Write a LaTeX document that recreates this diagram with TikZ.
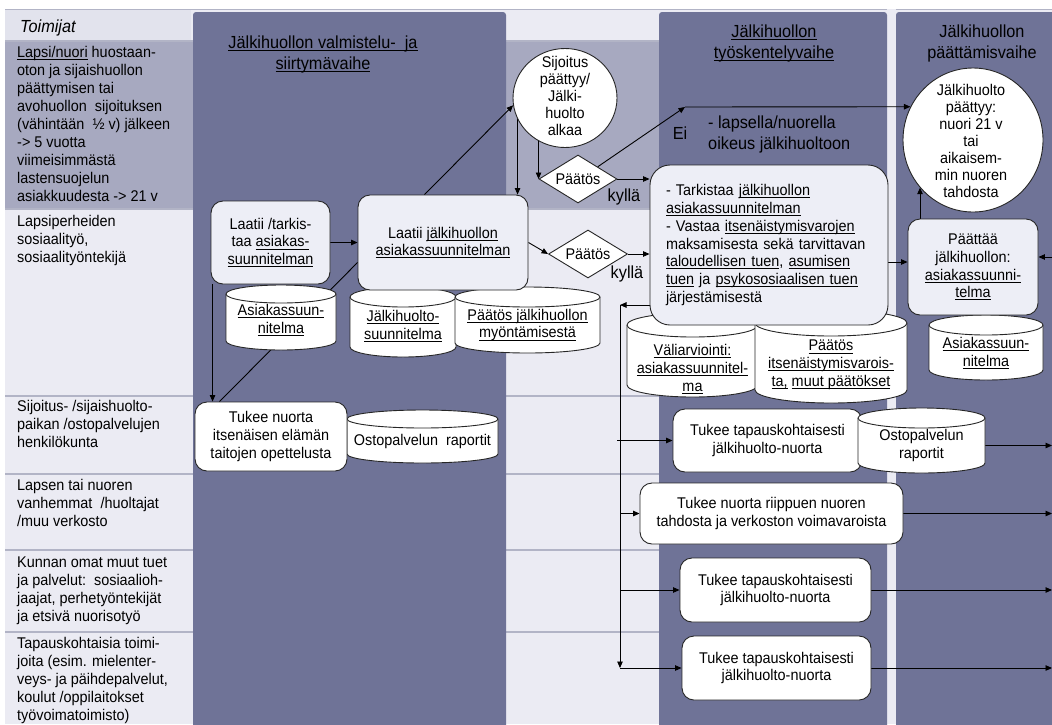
\documentclass[tikz,border=0pt]{standalone}
\usepackage{fontspec}
\setmainfont{Liberation Sans}[FakeStretch=0.93]
\usetikzlibrary{shapes.geometric,arrows.meta,calc}
\newsavebox\myulbox
\newcommand\myul[1]{\sbox\myulbox{#1}\leavevmode\rlap{\rule[-2.4pt]{\wd\myulbox}{0.75pt}}\usebox\myulbox}
\pgfdeclarelayer{bg}
\pgfdeclarelayer{lines}
\pgfsetlayers{bg,lines,main}
\definecolor{bgl}{RGB}{235,235,243}
\definecolor{bgm}{RGB}{167,169,192}
\definecolor{darkc}{RGB}{111,115,151}
\definecolor{sepc}{RGB}{178,180,198}
\definecolor{boxf}{RGB}{237,238,246}
\definecolor{hdrc}{RGB}{226,227,237}
\newcommand\fbody{\fontsize{15.5pt}{17.8pt}\selectfont}
\newcommand\fleft{\fontsize{15.5pt}{18pt}\selectfont}
\newcommand\fcirc{\fontsize{15.5pt}{17pt}\selectfont}
\newcommand\fhead{\fontsize{17.5pt}{21pt}\selectfont}
\newcommand\fbig{\fontsize{17.5pt}{21pt}\selectfont}
% #1 name, #2 left, #3 top, #4 right, #5 bottom, #6 cap radius, #7 text y, #8 text
\newcommand{\mycyl}[8]{%
  \filldraw[cylshape] (#2,#3+#6) -- (#2,#5-#6)
     arc[start angle=180,end angle=0,x radius={(#4-#2)/2},y radius=#6]
     -- (#4,#3+#6)
     arc[start angle=0,end angle=-180,x radius={(#4-#2)/2},y radius=#6] -- cycle;
  \draw[cylshape] (#2,#3+#6) arc[start angle=180,end angle=0,x radius={(#4-#2)/2},y radius=#6];
  \node[cyltext, minimum width={#4pt-#2pt}] (#1) at ({(#2+#4)/2},#7) {#8};
}
\begin{document}
\begin{tikzpicture}[x=1pt,y=-1pt,
  arr/.style={-{Triangle[length=6.5pt,width=5.5pt]}, line width=0.9pt, black},
  ln/.style={line width=0.9pt, black},
  procbox/.style={draw=black!85, line width=0.9pt, rounded corners=12pt, fill=boxf, align=center, font=\fbody, inner sep=0pt},
  wbox/.style={procbox, fill=white},
  cylshape/.style={draw=black!85, line width=0.9pt, fill=white},
  cyltext/.style={font=\fbody, align=center, inner sep=0pt},
  circ/.style={draw=black!85, line width=0.9pt, fill=white, ellipse, inner sep=0pt},
  circtext/.style={font=\fcirc, align=center, inner sep=0pt},
  dia/.style={draw=black!85, line width=0.9pt, fill=white, diamond, aspect=1.6, inner sep=0pt, font=\fbody},
  lefttxt/.style={anchor=north west, align=left, font=\fleft, inner sep=0pt},
  hdr/.style={align=center, font=\fhead, inner sep=0pt},
  lbl/.style={font=\fbig, inner sep=0pt}
]
\useasboundingbox (0,0) rectangle (1052,724);
\begin{pgfonlayer}{bg}
  \fill[white] (0,0) rectangle (1052,724);
  \fill[bgl] (5,9) rectangle (1052,724);
  \fill[hdrc] (5,9) rectangle (191,41);
  \fill[bgm] (5,41) rectangle (1052,209);
  \foreach \yy in {41,209,396,474,550,632} \draw[sepc, line width=2pt] (5,\yy) -- (1052,\yy);
  \draw[sepc, line width=0.8pt] (5,9) -- (1052,9);
  \fill[bgl] (887,9) rectangle (896,724);
  \fill[darkc, rounded corners=3pt] (193,12) rectangle (506,740);
  \fill[darkc, rounded corners=3pt] (659,12) rectangle (887,740);
  \fill[darkc, rounded corners=3pt] (896,12) rectangle (1070,740);
\end{pgfonlayer}

% left column
\node[anchor=base west, font=\fhead\itshape, inner sep=0pt] (toim) at (20,32) {Toimijat};
\node[lefttxt] (r1) at (17,45.7) {\myul{Lapsi/nuori} huostaan-\\oton ja sijaishuollon\\päättymisen tai\\avohuollon\ \ sijoituksen\\(vähintään\ \ ½ v) jälkeen\\-> 5 vuotta\\viimeisimmästä\\lastensuojelun\\asiakkuudesta -> 21 v};
\node[lefttxt] (r2) at (17,214.7) {Lapsiperheiden\\sosiaalityö,\\sosiaalityöntekijä};
\node[lefttxt] (r3) at (17,399.7) {Sijoitus- /sijaishuolto-\\paikan /ostopalvelujen\\henkilökunta};
\node[lefttxt] (r4) at (17,478.7) {Lapsen tai nuoren\\vanhemmat\ \ /huoltajat\\/muu verkosto};
\node[lefttxt] (r5) at (17,556.7) {Kunnan omat muut tuet\\ja palvelut:\ \ sosiaalioh-\\jaajat, perhetyöntekijät\\ja etsivä nuorisotyö};
\node[lefttxt] (r6) at (17,636.7) {Tapauskohtaisia toimi-\\joita (esim. mielenter-\\veys- ja päihdepalvelut,\\koulut /oppilaitokset\\työvoimatoimisto)};

% phase headers
\node[hdr] (H1) at (323,54) {\myul{Jälkihuollon valmistelu-\ \ ja}\\\myul{siirtymävaihe}};
\node[hdr] (H2) at (774,43.5) {\myul{Jälkihuollon}\\\myul{työskentelyvaihe}};
\node[hdr] (H3) at (982,43.5) {Jälkihuollon\\päättämisvaihe};

% cylinders (behind boxes)
\mycyl{cyA}{226}{285}{336}{350}{9}{320}{\myul{Asiakassuun-}\\\myul{nitelma}}
\mycyl{cyJ}{350}{287}{456}{357}{10}{326}{\myul{Jälkihuolto-}\\\myul{suunnitelma}}
\mycyl{cyM}{455}{287}{600}{353}{10}{325}{\myul{Päätös jälkihuollon}\\\myul{myöntämisestä}}
\mycyl{cyO}{347}{410}{498}{463}{9}{441}{Ostopalvelun\ \ raportit}
\mycyl{cyV}{627}{313}{758}{397}{12}{369}{\myul{Väliarviointi:}\\\myul{asiakassuunnitel-}\\\myul{ma}}
\mycyl{cyI}{755}{310}{907}{403}{13}{365}{\myul{Päätös}\\\myul{itsenäistymisvarois-}\\\myul{ta,} \myul{muut päätökset}}
\mycyl{cyP}{929}{315}{1043}{380}{10}{353}{\myul{Asiakassuun-}\\\myul{nitelma}}

% process boxes
\node[procbox, minimum width=119pt, minimum height=83pt] (A) at (270.5,242.5) {Laatii /tarkis-\\taa \myul{asiakas-}\\\myul{suunnitelman}};
\node[procbox, minimum width=170pt, minimum height=95pt] (B) at (443,242.5) {Laatii \myul{jälkihuollon}\\\myul{asiakassuunnitelman}};
\node[procbox, rounded corners=20pt, minimum width=238pt, minimum height=160pt, align=left, text width=206pt] (Cb) at (769,245) {- Tarkistaa \myul{jälkihuollon}\\\myul{asiakassuunnitelman}\\- Vastaa \myul{itsenäistymisvarojen}\\maksamisesta sekä tarvittavan\\\myul{taloudellisen tuen}, \myul{asumisen}\\\myul{tuen} ja \myul{psykososiaalisen tuen}\\järjestämisestä};
\node[procbox, minimum width=130pt, minimum height=96pt] (P) at (973,267) {Päättää\\jälkihuollon:\\\myul{asiakassuunni-}\\\myul{telma}};
\node[wbox, minimum width=152pt, minimum height=69pt] (T1) at (271,436.5) {Tukee nuorta\\itsenäisen elämän\\taitojen opettelusta};
\node[wbox, minimum width=189pt, minimum height=63pt] (T2) at (767.5,440.5) {Tukee tapauskohtaisesti\\jälkihuolto-nuorta};
\node[wbox, minimum width=263pt, minimum height=61pt] (T3) at (771.5,513.5) {Tukee nuorta riippuen nuoren\\tahdosta ja verkoston voimavaroista};
\node[wbox, minimum width=191pt, minimum height=64pt] (T4) at (775.5,590) {Tukee tapauskohtaisesti\\jälkihuolto-nuorta};
\node[wbox, minimum width=189pt, minimum height=64pt] (T5) at (776.5,668) {Tukee tapauskohtaisesti\\jälkihuolto-nuorta};
\mycyl{cyR}{858}{408}{985}{473}{10}{445.5}{Ostopalvelun\\raportit}

% start / end circles
\node[circ, minimum width=104pt, minimum height=99pt] (C1) at (565,98) {};
\node[circtext] (C1t) at (565,96) {Sijoitus\\päättyy/\\Jälki-\\huolto\\alkaa};
\node[circ, minimum width=140pt, minimum height=144pt] (C2) at (973,140) {};
\node[circtext] (C2t) at (971,141) {Jälkihuolto\\päättyy:\\nuori 21 v\\tai\\aikaisem-\\min nuoren\\tahdosta};

% decisions
\node[dia, minimum width=78pt, minimum height=48pt] (D1) at (578,179) {Päätös};
\node[dia, minimum width=79pt, minimum height=48pt] (D2) at (588,254) {Päätös};

% labels
\node[lbl] (ky1) at (624,197) {kyllä};
\node[lbl] (ky2) at (627,274) {kyllä};
\node[lbl] (eil) at (680,133) {Ei};
\node[anchor=north west, align=left, font=\fbig, inner sep=0pt] (oik) at (708,115.5) {- lapsella/nuorella\\oikeus jälkihuoltoon};

% connectors
\coordinate (ei) at (685,107);
\coordinate (rs) at (1052,257);
\coordinate (redge) at (1052,0);
\coordinate (vt) at (620,305);
\coordinate (vb) at (620,668);
\begin{pgfonlayer}{lines}
  \draw[arr] (A.east) -- (B.west);
  \draw[arr] ([xshift=2pt]A.south west) -- ([xshift=2pt]A.south west |- T1.north);
  \draw[ln] ($(T1.north west)+(25,0)$) -- ($(B.west)+(0,20)$);
  \draw[arr] ($(B.north west)+(67,0)$) -- (C1.188);
  \draw[arr] ($(C1.west)+(5,0)$) -- ($(C1.west |- B.north)+(5,0)$);
  \draw[arr] ($(D1.west)+(0,-40)$) -- (D1.west);
  \draw[arr] (D1.east) -- (D1.east -| Cb.west);
  \draw[arr] (D1.north east) -- (ei);
  \draw[arr] (ei) -- (C2.152);
  \draw[arr] (B.east) -- (D2.west);
  \draw[arr] (D2.east) -- (D2.east -| Cb.west);
  \draw[arr] ($(Cb.east |- P.west)+(0,-5)$) -- ($(P.west)+(0,-5)$);
  \draw[arr] (C2.222 |- P.north) -- (C2.222);
  \draw[arr] (rs) -- (rs -| P.east);
  \draw[arr] (vt -| Cb.west) -- (vt);
  \draw[arr] (vt) -- (vb);
  \draw[arr] ($(vt |- T2.west)+(-3,0)$) -- (T2.west);
  \draw[arr] (vt |- T3.west) -- (T3.west);
  \draw[arr] (vt |- T4.west) -- (T4.west);
  \draw[arr] (vb) -- (T5.west);
  \draw[arr] (cyR.east) -- (cyR.east -| redge);
  \draw[arr] (T3.east) -- (T3.east -| redge);
  \draw[arr] (T4.east) -- (T4.east -| redge);
  \draw[arr] (T5.east) -- (T5.east -| redge);
\end{pgfonlayer}
\end{tikzpicture}
\end{document}
